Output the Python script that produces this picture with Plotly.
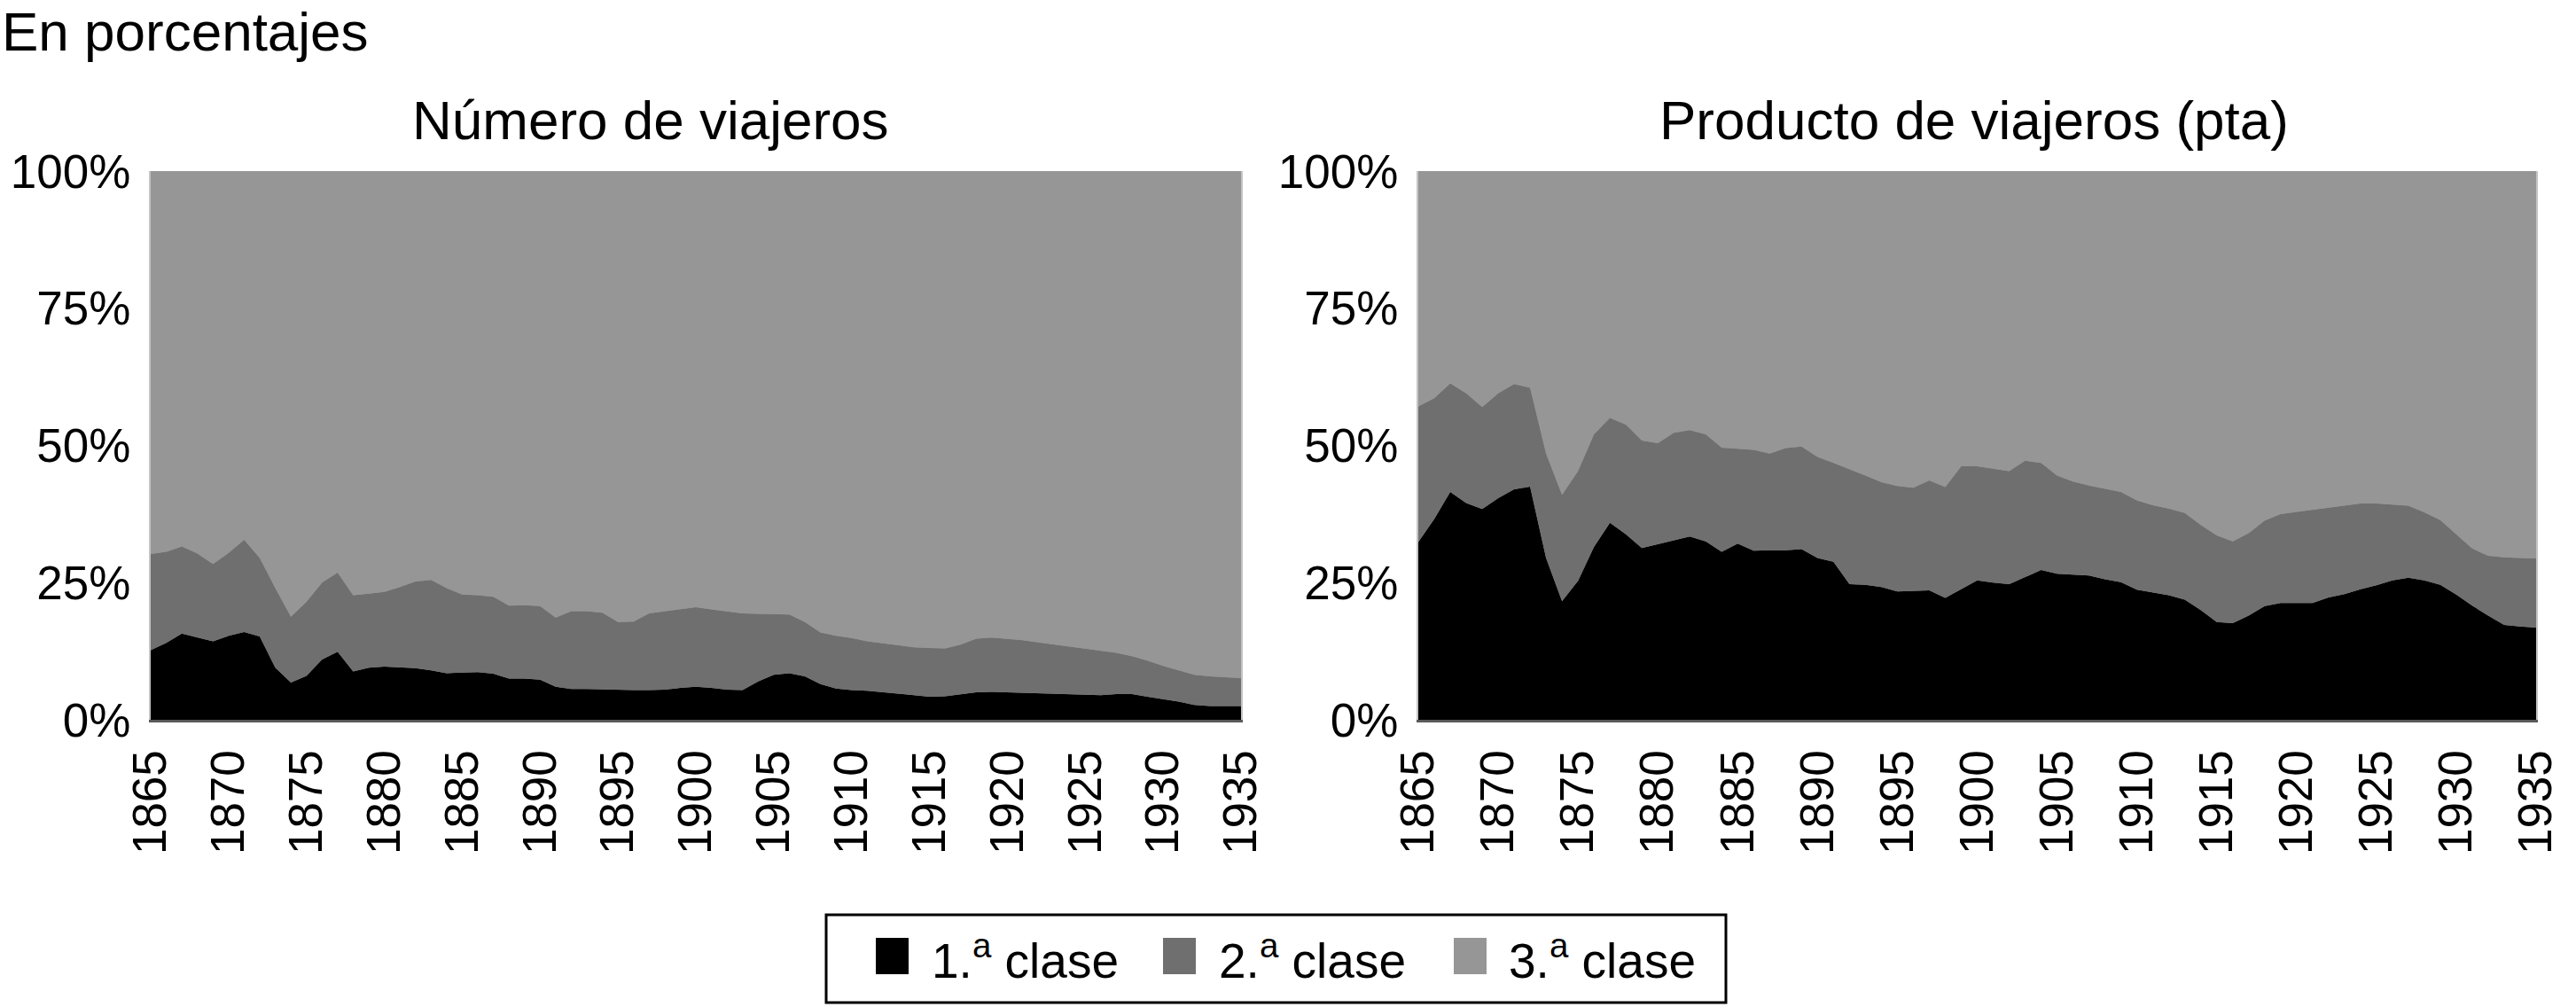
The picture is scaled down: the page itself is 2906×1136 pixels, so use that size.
import plotly.graph_objects as go

W, H = 2906, 1136

years = list(range(1865, 1936))
x_ticks = list(range(1865, 1936, 5))
y_ticks = [0, 25, 50, 75, 100]
y_tick_labels = ["0%", "25%", "50%", "75%", "100%"]
class_names = ["1.<sup>a</sup> clase", "2.<sup>a</sup> clase", "3.<sup>a</sup> clase"]
class_colors = ["#000000", "#6f6f6f", "#969696"]

# Número de viajeros (%)
num_first = [12.7, 14.0, 15.7, 15.0, 14.3, 15.3, 16.0, 15.2, 9.5, 6.8,
             8.0, 11.0, 12.4, 8.8, 9.5, 9.7, 9.6, 9.4, 9.0, 8.5,
             8.6, 8.7, 8.4, 7.5, 7.5, 7.3, 6.0, 5.6, 5.6, 5.5,
             5.4, 5.4, 5.4, 5.5, 5.8, 6.0, 5.8, 5.5, 5.4, 7.0,
             8.2, 8.5, 7.9, 6.5, 5.7, 5.4, 5.3, 5.0, 4.7, 4.4,
             4.2, 4.3, 4.7, 5.0, 5.1, 5.0, 4.9, 4.8, 4.8, 4.7,
             4.6, 4.5, 4.7, 4.7, 4.2, 3.8, 3.3, 2.7, 2.5, 2.5, 2.5]
num_second = [17.5, 16.6, 15.9, 15.3, 14.1, 15.1, 16.8, 14.3, 14.5, 12.0,
              13.5, 14.0, 14.4, 13.9, 13.5, 13.6, 14.6, 15.8, 16.5, 15.5,
              14.2, 14.0, 14.0, 13.3, 13.4, 13.4, 12.6, 14.2, 14.2, 14.0,
              12.4, 12.5, 14.0, 14.3, 14.4, 14.5, 14.3, 14.3, 14.0, 12.3,
              11.0, 10.7, 9.9, 9.4, 9.6, 9.5, 9.0, 8.9, 8.8, 8.8,
              8.9, 8.7, 9.0, 9.8, 9.9, 9.8, 9.6, 9.3, 8.9, 8.6,
              8.4, 8.1, 7.5, 6.9, 6.6, 6.0, 5.7, 5.5, 5.4, 5.2, 5.1]
num_third = [69.8, 69.4, 68.4, 69.7, 71.6, 69.6, 67.2, 70.5, 76.0, 81.2,
             78.5, 75.0, 73.2, 77.3, 77.0, 76.7, 75.8, 74.8, 74.5, 76.0,
             77.2, 77.3, 77.6, 79.2, 79.1, 79.3, 81.4, 80.2, 80.2, 80.5,
             82.2, 82.1, 80.6, 80.2, 79.8, 79.5, 79.9, 80.2, 80.6, 80.7,
             80.8, 80.8, 82.2, 84.1, 84.7, 85.1, 85.7, 86.1, 86.5, 86.8,
             86.9, 87.0, 86.3, 85.2, 85.0, 85.2, 85.5, 85.9, 86.3, 86.7,
             87.0, 87.4, 87.8, 88.4, 89.2, 90.2, 91.0, 91.8, 92.1, 92.3, 92.4]

# Producto de viajeros (%)
prod_first = [32.4, 36.6, 41.5, 39.5, 38.4, 40.4, 42.0, 42.5, 29.5, 21.6,
              25.3, 31.5, 35.9, 33.8, 31.3, 32.0, 32.8, 33.4, 32.5, 30.6,
              32.1, 30.8, 30.9, 30.9, 31.1, 29.5, 28.8, 24.7, 24.6, 24.2,
              23.4, 23.5, 23.6, 22.2, 23.8, 25.4, 25.0, 24.7, 26.0, 27.3,
              26.6, 26.4, 26.3, 25.6, 25.1, 23.7, 23.2, 22.7, 21.9, 20.0,
              17.8, 17.6, 19.0, 20.7, 21.3, 21.3, 21.3, 22.3, 22.9, 23.8,
              24.5, 25.4, 25.9, 25.4, 24.6, 22.8, 20.8, 19.0, 17.3, 17.0, 16.8]
prod_second = [24.7, 22.0, 19.8, 20.0, 18.6, 19.1, 19.2, 18.0, 19.0, 19.4,
               20.0, 20.5, 19.1, 20.0, 19.6, 18.4, 19.5, 19.4, 19.5, 19.0,
               17.3, 18.4, 17.6, 18.6, 18.7, 18.4, 18.0, 21.0, 19.9, 19.1,
               19.2, 18.8, 20.0, 20.2, 22.4, 20.8, 20.7, 20.6, 21.2, 19.5,
               17.9, 17.0, 16.4, 16.5, 16.4, 16.3, 15.9, 15.8, 15.8, 15.5,
               15.8, 14.9, 15.0, 15.6, 16.2, 16.6, 17.0, 16.3, 16.1, 15.6,
               14.9, 13.8, 13.1, 12.4, 11.8, 11.0, 10.4, 10.9, 12.3, 12.5, 12.6]
prod_third = [42.9, 41.4, 38.7, 40.5, 43.0, 40.5, 38.8, 39.5, 51.5, 59.0,
              54.7, 48.0, 45.0, 46.2, 49.1, 49.6, 47.7, 47.2, 48.0, 50.4,
              50.6, 50.8, 51.5, 50.5, 50.2, 52.1, 53.2, 54.3, 55.5, 56.7,
              57.4, 57.7, 56.4, 57.6, 53.8, 53.8, 54.3, 54.7, 52.8, 53.2,
              55.5, 56.6, 57.3, 57.9, 58.5, 60.0, 60.9, 61.5, 62.3, 64.5,
              66.4, 67.5, 66.0, 63.7, 62.5, 62.1, 61.7, 61.4, 61.0, 60.6,
              60.6, 60.8, 61.0, 62.2, 63.6, 66.2, 68.8, 70.1, 70.4, 70.5, 70.6]


def px_x(p):
    return p / W


def px_y(p):
    return 1 - p / H


FONT = "Liberation Sans, Arial, Helvetica, sans-serif"

fig = go.Figure()

panels = [
    ("x", "y", [num_first, num_second, num_third], "num"),
    ("x2", "y2", [prod_first, prod_second, prod_third], "prod"),
]
for xa, ya, series, grp in panels:
    for name, color, vals in zip(class_names, class_colors, series):
        fig.add_trace(go.Scatter(
            x=years, y=vals, name=name, xaxis=xa, yaxis=ya,
            stackgroup=grp, mode="lines", line=dict(width=0, color=color),
            fillcolor=color, showlegend=False,
        ))

xaxis_common = dict(
    range=[1865, 1935], tickmode="array", tickvals=x_ticks,
    ticktext=[str(v) for v in x_ticks],
    tickangle=-90, showgrid=False, zeroline=False, ticks="",
    tickfont=dict(family=FONT, size=53, color="#000000"),
    showline=True, linecolor="#5a5a5a", linewidth=3, ticklabelstandoff=10,
    automargin=False,
)
yaxis_common = dict(
    range=[0, 100], tickmode="array", tickvals=y_ticks, ticktext=y_tick_labels,
    showgrid=False, zeroline=False, ticks="",
    tickfont=dict(family=FONT, size=53, color="#000000"),
    showline=True, linecolor="#c4c4c4", linewidth=2, mirror=True,
    ticklabelstandoff=10, automargin=False,
)

y_dom = [px_y(812), px_y(193)]
fig.update_layout(
    width=W, height=H,
    margin=dict(l=0, r=0, t=0, b=0, pad=0, autoexpand=False),
    paper_bgcolor="#ffffff", plot_bgcolor="#969696",
    showlegend=False,
    xaxis=dict(domain=[px_x(170), px_x(1400)], anchor="y", **xaxis_common),
    yaxis=dict(domain=y_dom, anchor="x", **yaxis_common),
    xaxis2=dict(domain=[px_x(1600), px_x(2861)], anchor="y2", **xaxis_common),
    yaxis2=dict(domain=y_dom, anchor="x2", **yaxis_common),
)

annotations = [
    dict(text="En porcentajes", x=px_x(0), y=px_y(35), xanchor="left", yanchor="middle",
         font=dict(family=FONT, size=62, color="#000000")),
    dict(text="Número de viajeros", x=px_x(734), y=px_y(136), xanchor="center", yanchor="middle",
         font=dict(family=FONT, size=62, color="#000000")),
    dict(text="Producto de viajeros (pta)", x=px_x(2227), y=px_y(136), xanchor="center", yanchor="middle",
         font=dict(family=FONT, size=62, color="#000000")),
]

# Legend drawn by hand (large swatches as in the original)
shapes = [dict(type="rect", xref="paper", yref="paper",
               x0=px_x(932), x1=px_x(1947), y0=px_y(1131), y1=px_y(1032),
               line=dict(color="#000000", width=3), fillcolor="rgba(0,0,0,0)")]
swatch_x = [988, 1312, 1640]
text_x = [1049, 1373, 1700]
for sx, tx, name, color in zip(swatch_x, text_x, class_names, class_colors):
    shapes.append(dict(type="rect", xref="paper", yref="paper",
                       x0=px_x(sx), x1=px_x(sx + 37), y0=px_y(1099), y1=px_y(1058),
                       line=dict(width=0), fillcolor=color))
    annotations.append(dict(text=name, x=px_x(tx), y=px_y(1080), xanchor="left", yanchor="middle",
                            font=dict(family=FONT, size=55, color="#000000")))

for a in annotations:
    a.update(xref="paper", yref="paper", showarrow=False)

fig.update_layout(annotations=annotations, shapes=shapes)

fig.write_html(
    "out.html",
    config={"displayModeBar": False},
    post_script="document.body.style.margin='0';document.body.style.overflow='hidden';",
)
